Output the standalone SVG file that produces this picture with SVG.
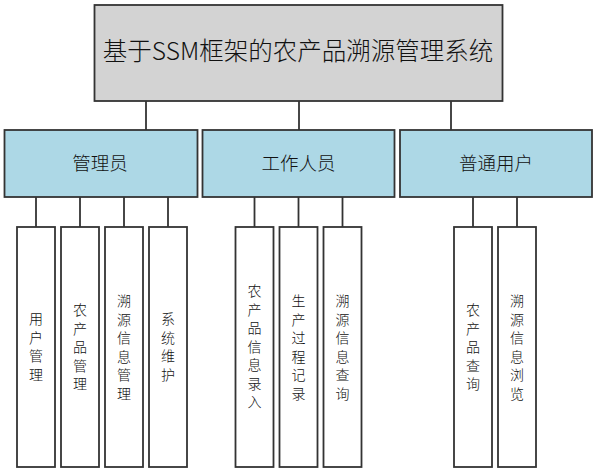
<svg xmlns="http://www.w3.org/2000/svg" width="597" height="473" viewBox="0 0 597 473">
<style>
.box{stroke:#333;stroke-width:1.8}
.top{fill:#d3d3d3}
.mid{fill:#add8e6}
.leaf{fill:#fff}
.t{font-family:"Microsoft YaHei","Noto Sans CJK SC",sans-serif;font-weight:300;fill:#111;text-anchor:middle}
.lt{font-size:14px}
.conn line{stroke:#333;stroke-width:1.8}
</style>
<rect width="597" height="473" fill="#fff"/>
<g id="connectors" class="conn">
<line x1="146" y1="101" x2="146" y2="130"/>
<line x1="299" y1="101" x2="299" y2="130"/>
<line x1="451" y1="101" x2="451" y2="130"/>
<line x1="36" y1="197" x2="36" y2="227"/>
<line x1="80" y1="197" x2="80" y2="227"/>
<line x1="124" y1="197" x2="124" y2="227"/>
<line x1="168" y1="197" x2="168" y2="227"/>
<line x1="254.5" y1="197" x2="254.5" y2="227"/>
<line x1="298.5" y1="197" x2="298.5" y2="227"/>
<line x1="342.5" y1="197" x2="342.5" y2="227"/>
<line x1="473" y1="197" x2="473" y2="227"/>
<line x1="517" y1="197" x2="517" y2="227"/>
</g>
<g id="root">
<rect class="box top" x="94.5" y="5" width="408" height="96"/>
<text class="t" x="298" y="60" font-size="24.5">基于SSM框架的农产品溯源管理系统</text>
</g>
<g id="admin">
<rect class="box mid" x="4.5" y="130" width="193" height="67"/>
<text class="t" x="100" y="170" font-size="18.5">管理员</text>
</g>
<g id="staff">
<rect class="box mid" x="202.5" y="130" width="192" height="67"/>
<text class="t" x="298.5" y="170" font-size="18.5">工作人员</text>
</g>
<g id="user">
<rect class="box mid" x="400" y="130" width="192" height="67"/>
<text class="t" x="496" y="170" font-size="18.5">普通用户</text>
</g>
<g id="leaf1">
<rect class="box leaf" x="17" y="227" width="38" height="240"/>
<text class="t lt" x="36"><tspan x="36" y="324">用</tspan><tspan x="36" dy="18.5">户</tspan><tspan x="36" dy="18.5">管</tspan><tspan x="36" dy="18.5">理</tspan></text>
</g>
<g id="leaf2">
<rect class="box leaf" x="61" y="227" width="38" height="240"/>
<text class="t lt" x="80"><tspan x="80" y="315">农</tspan><tspan x="80" dy="18.5">产</tspan><tspan x="80" dy="18.5">品</tspan><tspan x="80" dy="18.5">管</tspan><tspan x="80" dy="18.5">理</tspan></text>
</g>
<g id="leaf3">
<rect class="box leaf" x="105" y="227" width="38" height="240"/>
<text class="t lt" x="124"><tspan x="124" y="306">溯</tspan><tspan x="124" dy="18.5">源</tspan><tspan x="124" dy="18.5">信</tspan><tspan x="124" dy="18.5">息</tspan><tspan x="124" dy="18.5">管</tspan><tspan x="124" dy="18.5">理</tspan></text>
</g>
<g id="leaf4">
<rect class="box leaf" x="149" y="227" width="38" height="240"/>
<text class="t lt" x="168"><tspan x="168" y="324">系</tspan><tspan x="168" dy="18.5">统</tspan><tspan x="168" dy="18.5">维</tspan><tspan x="168" dy="18.5">护</tspan></text>
</g>
<g id="leaf5">
<rect class="box leaf" x="235.5" y="227" width="38" height="240"/>
<text class="t lt" x="254.5"><tspan x="254.5" y="296">农</tspan><tspan x="254.5" dy="18.5">产</tspan><tspan x="254.5" dy="18.5">品</tspan><tspan x="254.5" dy="18.5">信</tspan><tspan x="254.5" dy="18.5">息</tspan><tspan x="254.5" dy="18.5">录</tspan><tspan x="254.5" dy="18.5">入</tspan></text>
</g>
<g id="leaf6">
<rect class="box leaf" x="279.5" y="227" width="38" height="240"/>
<text class="t lt" x="298.5"><tspan x="298.5" y="306">生</tspan><tspan x="298.5" dy="18.5">产</tspan><tspan x="298.5" dy="18.5">过</tspan><tspan x="298.5" dy="18.5">程</tspan><tspan x="298.5" dy="18.5">记</tspan><tspan x="298.5" dy="18.5">录</tspan></text>
</g>
<g id="leaf7">
<rect class="box leaf" x="323.5" y="227" width="38" height="240"/>
<text class="t lt" x="342.5"><tspan x="342.5" y="306">溯</tspan><tspan x="342.5" dy="18.5">源</tspan><tspan x="342.5" dy="18.5">信</tspan><tspan x="342.5" dy="18.5">息</tspan><tspan x="342.5" dy="18.5">查</tspan><tspan x="342.5" dy="18.5">询</tspan></text>
</g>
<g id="leaf8">
<rect class="box leaf" x="454" y="227" width="38" height="240"/>
<text class="t lt" x="473"><tspan x="473" y="315">农</tspan><tspan x="473" dy="18.5">产</tspan><tspan x="473" dy="18.5">品</tspan><tspan x="473" dy="18.5">查</tspan><tspan x="473" dy="18.5">询</tspan></text>
</g>
<g id="leaf9">
<rect class="box leaf" x="498" y="227" width="38" height="240"/>
<text class="t lt" x="517"><tspan x="517" y="306">溯</tspan><tspan x="517" dy="18.5">源</tspan><tspan x="517" dy="18.5">信</tspan><tspan x="517" dy="18.5">息</tspan><tspan x="517" dy="18.5">浏</tspan><tspan x="517" dy="18.5">览</tspan></text>
</g>
</svg>
